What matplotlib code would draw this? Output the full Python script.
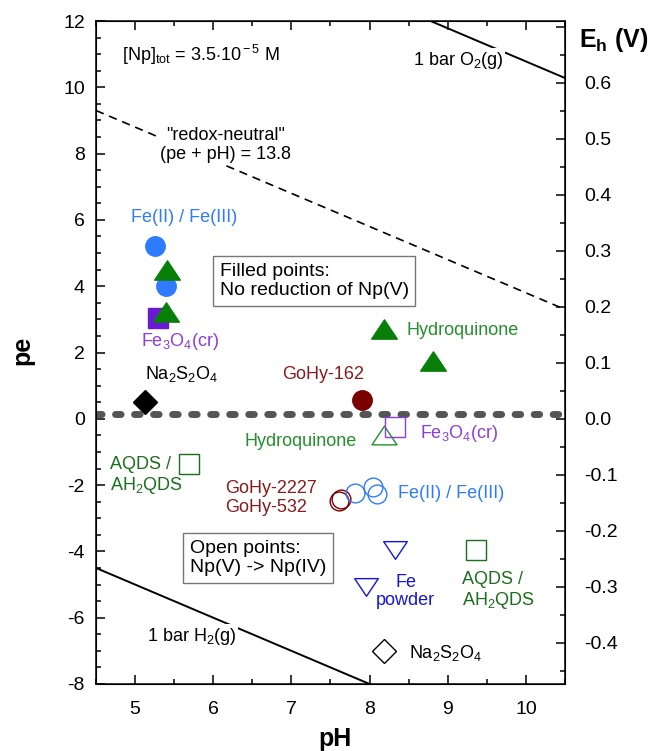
import numpy as np
import matplotlib
matplotlib.use("Agg")
import matplotlib.pyplot as plt
from matplotlib.path import Path
from matplotlib.ticker import MultipleLocator, FuncFormatter

plt.rcParams['font.family'] = ['Liberation Sans', 'DejaVu Sans']
plt.rcParams['mathtext.fontset'] = 'custom'
plt.rcParams['mathtext.rm'] = 'Liberation Sans'
plt.rcParams['mathtext.it'] = 'Liberation Sans:italic'
plt.rcParams['mathtext.bf'] = 'Liberation Sans:bold'
plt.rcParams['axes.unicode_minus'] = False

EH_PER_PE = 0.05916

# filled points: no reduction of Np(V)
fe_fill_ph, fe_fill_pe = [5.26, 5.39], [5.21, 4.01]
hq_fill_ph, hq_fill_pe = [5.41, 5.40, 8.18, 8.81], [4.50, 3.22, 2.71, 1.73]
mag_fill_ph, mag_fill_pe = [5.29], [3.04]
na_fill_ph, na_fill_pe = [5.13], [0.50]
gohy_fill_ph, gohy_fill_pe = [7.90], [0.56]

# open points: Np(V) -> Np(IV)
hq_open_ph, hq_open_pe = [8.19], [-0.50]
mag_open_ph, mag_open_pe = [8.32], [-0.25]
aqds_open_ph, aqds_open_pe = [5.69, 9.36], [-1.36, -3.97]
gohy_open_ph, gohy_open_pe = [7.61, 7.63], [-2.48, -2.42]
fe_open_ph, fe_open_pe = [7.81, 8.04, 8.10], [-2.24, -2.05, -2.28]
fep_open_ph, fep_open_pe = [8.32, 7.96], [-3.95, -5.06]
na_open_ph, na_open_pe = [8.18], [-6.99]

# boundary lines (pe = a - pH)
ph_line = np.array([4.5, 10.5])
o2_const = 20.78
neutral_const = 13.8
h2_const = 0.0
np_boundary_pe = 0.15

BLUE = '#2e7bff'
GREEN = '#087f08'
GREEN_TXT = '#23902a'
DKGREEN = '#1b6e1b'
PURPLE = '#6a18d6'
PURPLE_TXT = '#8a3de0'
DKRED = '#7b0000'
DKRED_TXT = '#8b1a1a'
FEBLUE = '#1414e0'

tri_up = Path([(0, 0.75), (-1, -0.75), (1, -0.75), (0, 0.75)],
              [Path.MOVETO, Path.LINETO, Path.LINETO, Path.CLOSEPOLY])
tri_down = Path([(0, -0.75), (-1, 0.75), (1, 0.75), (0, -0.75)],
                [Path.MOVETO, Path.LINETO, Path.LINETO, Path.CLOSEPOLY])

fig = plt.figure(figsize=(6.53, 7.51), dpi=100)
ax = fig.add_axes([96 / 653, 67 / 751, 469 / 653, 663 / 751])

ax.set_xlim(4.5, 10.5)
ax.set_ylim(-8, 12)

# lines
ax.plot(ph_line, o2_const - ph_line, color='black', lw=1.4, zorder=1)
ax.plot(ph_line, neutral_const - ph_line, color='black', lw=1.2,
        dashes=(5, 3.5), zorder=1)
ax.plot(ph_line, h2_const - ph_line, color='black', lw=1.4, zorder=1)
ax.axhline(np_boundary_pe, color='#555555', lw=5, dashes=(0.8, 1.94),
           dash_capstyle='round', zorder=2)

# filled markers
ax.plot(mag_fill_ph, mag_fill_pe, 's', ms=15, color=PURPLE, mec=PURPLE, zorder=3)
ax.plot(fe_fill_ph, fe_fill_pe, 'o', ms=14, color=BLUE, mec=BLUE, zorder=3)
ax.plot(hq_fill_ph, hq_fill_pe, marker=tri_up, ls='none', ms=18.5,
        color=GREEN, mec=GREEN, zorder=4)
ax.plot(na_fill_ph, na_fill_pe, 'D', ms=12.2, color='black', zorder=4)
ax.plot(gohy_fill_ph, gohy_fill_pe, 'o', ms=14, color=DKRED, mec=DKRED, zorder=4)

# open markers
ax.plot(hq_open_ph, hq_open_pe, marker=tri_up, ls='none', ms=18, mfc='none',
        mec=GREEN_TXT, mew=1.0, zorder=4)
ax.plot(mag_open_ph, mag_open_pe, 's', ms=14, mfc='none', mec=PURPLE_TXT,
        mew=1.0, zorder=4)
ax.plot(aqds_open_ph, aqds_open_pe, 's', ms=14.4, mfc='none', mec=DKGREEN,
        mew=1.0, zorder=4)
ax.plot(gohy_open_ph, gohy_open_pe, 'o', ms=13.5, mfc='none', mec=DKRED,
        mew=1.0, zorder=4)
ax.plot(fe_open_ph, fe_open_pe, 'o', ms=13.5, mfc='none', mec=BLUE,
        mew=1.0, zorder=4)
ax.plot(fep_open_ph, fep_open_pe, marker=tri_down, ls='none', ms=17,
        mfc='none', mec=FEBLUE, mew=1.0, zorder=4)
ax.plot(na_open_ph, na_open_pe, 'D', ms=12.7, mfc='none', mec='black',
        mew=1.0, zorder=4)

# annotations
fs = 13
ls = 1.1
white = dict(facecolor='white', edgecolor='none', pad=1.5)
ax.text(4.83, 10.97, r'[Np]$_{\rm tot}$ = 3.5$\cdot$10$^{\rm -5}$ M',
        fontsize=fs, va='center', ha='left')
ax.text(9.13, 10.8, r'1 bar O$_{\rm 2}$(g)', fontsize=fs, ha='center',
        va='center', bbox=white, zorder=2)
ax.text(6.16, 8.26, '"redox-neutral"\n(pe + pH) = 13.8', fontsize=fs,
        ha='center', va='center', linespacing=ls, bbox=white, zorder=2)
ax.text(5.72, -6.58, r'1 bar H$_{\rm 2}$(g)', fontsize=fs, ha='center',
        va='center', bbox=white, zorder=2)

ax.text(5.63, 6.06, 'Fe(II) / Fe(III)', fontsize=fs, color=BLUE,
        ha='center', va='center')
ax.text(5.58, 2.33, r'Fe$_{\rm 3}$O$_{\rm 4}$(cr)', fontsize=fs,
        color=PURPLE_TXT, ha='center', va='center')
ax.text(5.59, 1.35, r'Na$_{\rm 2}$S$_{\rm 2}$O$_{\rm 4}$', fontsize=fs,
        ha='center', va='center')
ax.text(7.40, 1.35, 'GoHy-162', fontsize=fs, color=DKRED_TXT,
        ha='center', va='center')
ax.text(8.47, 2.65, 'Hydroquinone', fontsize=fs, color=GREEN_TXT,
        ha='left', va='center')
ax.text(7.12, -0.67, 'Hydroquinone', fontsize=fs, color=GREEN_TXT,
        ha='center', va='center')
ax.text(8.64, -0.43, r'Fe$_{\rm 3}$O$_{\rm 4}$(cr)', fontsize=fs,
        color=PURPLE_TXT, ha='left', va='center')
ax.text(4.68, -1.72, 'AQDS /\nAH$_{\\rm 2}$QDS', fontsize=fs, color=DKGREEN,
        ha='left', va='center', linespacing=ls)
ax.text(6.15, -2.39, 'GoHy-2227\nGoHy-532', fontsize=fs, color=DKRED_TXT,
        ha='left', va='center', linespacing=ls)
ax.text(8.36, -2.24, 'Fe(II) / Fe(III)', fontsize=fs, color=BLUE,
        ha='left', va='center')
ax.text(8.46, -5.2, 'Fe\npowder', fontsize=fs, color=FEBLUE,
        ha='center', va='center', linespacing=ls)
ax.text(9.18, -5.2, 'AQDS /\nAH$_{\\rm 2}$QDS', fontsize=fs, color=DKGREEN,
        ha='left', va='center', linespacing=ls)
ax.text(8.51, -7.06, r'Na$_{\rm 2}$S$_{\rm 2}$O$_{\rm 4}$', fontsize=fs,
        ha='left', va='center')

boxstyle = dict(boxstyle='square,pad=0.35', facecolor='white',
                edgecolor='#777777', lw=1.0)
ax.text(6.08, 4.16, 'Filled points:\nNo reduction of Np(V)', fontsize=14,
        ha='left', va='center', linespacing=1.2, bbox=boxstyle, zorder=5)
ax.text(5.70, -4.2, 'Open points:\nNp(V) -> Np(IV)', fontsize=14,
        ha='left', va='center', linespacing=1.2, bbox=boxstyle, zorder=5)

# axes styling
ax.xaxis.set_major_locator(MultipleLocator(1))
ax.xaxis.set_minor_locator(MultipleLocator(0.5))
ax.yaxis.set_major_locator(MultipleLocator(2))
ax.yaxis.set_minor_locator(MultipleLocator(0.5))
ax.tick_params(which='both', direction='in', top=True, right=False,
               labelsize=14, width=1.1)
ax.tick_params(axis='x', pad=12)
ax.tick_params(axis='y', pad=8)
ax.tick_params(which='major', length=6.5)
ax.tick_params(which='minor', length=3.5)
for s in ax.spines.values():
    s.set_linewidth(1.1)

ax2 = ax.twinx()
ax2.set_ylim(-8 * EH_PER_PE, 12 * EH_PER_PE)
ax2.yaxis.set_major_locator(MultipleLocator(0.1))
ax2.yaxis.set_minor_locator(MultipleLocator(0.05))
ax2.yaxis.set_major_formatter(
    FuncFormatter(lambda v, p: '' if v > 0.65 else f'{v:.1f}'))
ax2.tick_params(which='both', direction='in', labelsize=14, width=1.1, pad=14)
ax2.tick_params(which='major', length=6.5)
ax2.tick_params(which='minor', length=3.5)

fig.text(22 / 653, 1 - 350 / 751, 'pe', rotation=90, fontsize=18,
         fontweight='bold', ha='center', va='center')
fig.text(335 / 653, 1 - 739 / 751, 'pH', fontsize=18, fontweight='bold',
         ha='center', va='center')
fig.text(579 / 653, 1 - 47 / 751, r'E$_{\mathbf{h}}$ (V)', fontsize=18,
         fontweight='bold', ha='left', va='baseline')

fig.savefig('out.png', dpi=100)
